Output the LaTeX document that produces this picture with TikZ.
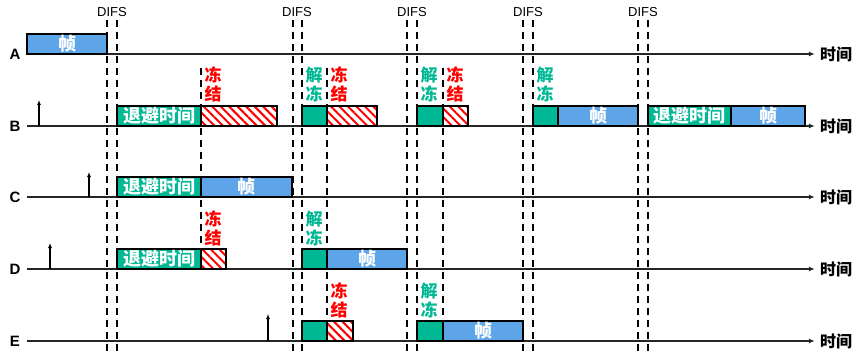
\documentclass[tikz,border=0pt]{standalone}
\usepackage{fontspec}
\setmainfont{Liberation Sans}
\newfontfamily\cjk{Noto Sans CJK SC}
\usetikzlibrary{arrows.meta,patterns.meta,positioning}

\definecolor{frblue}{RGB}{93,165,232}
\definecolor{bkgreen}{RGB}{0,184,148}

\tikzset{
  box/.style={draw=black,line width=1.6pt,inner sep=0pt,outer sep=0pt,minimum height=20pt,anchor=south west,
    text=white,font=\cjk\bfseries\fontsize{18}{18}\selectfont},
  frm/.style={box,fill=frblue},
  bko/.style={box,fill=bkgreen},
  frz/.style={box,pattern={Lines[angle=-45,distance=6pt,line width=2pt]},pattern color=red},
  tl/.style={line width=1.9pt,black!85,-{Latex[length=6pt,width=5pt]}},
  difs/.style={line width=1.5pt,dash pattern=on 7pt off 5pt},
  up/.style={line width=1.4pt,-{Latex[length=5pt,width=4pt]}},
  row/.style={font=\bfseries\fontsize{15}{15}\selectfont,minimum width=24pt,inner sep=0pt},
  tm/.style={font=\cjk\bfseries\fontsize{16}{16}\selectfont,inner sep=5pt},
  lbl/.style={font=\cjk\bfseries\fontsize{17}{19}\selectfont,align=center,inner sep=0pt},
  frzlbl/.style={lbl,text=red},
  thwlbl/.style={lbl,text=bkgreen}
}

\begin{document}
\begin{tikzpicture}[x=1pt,y=-1pt]
\useasboundingbox (0,0) rectangle (863,361);

\foreach \x in {107,117,293,302,407,417,523,533,638,648}
  \draw[difs] (\x,20) -- (\x,352);
\foreach \x [count=\i] in {112,297,412,528,643}
  \node[font=\fontsize{13}{13}\selectfont] (difs\i) at (\x,12) {DIFS};
\draw[difs] (201,68) -- (201,269);
\draw[difs] (327,68) -- (327,341);
\draw[difs] (443,68) -- (443,341);

\foreach \r/\y in {A/54,B/126,C/197,D/269,E/341} {
  \node[row] (l\r) at (15,\y) {\r};
  \node[tm] (t\r) at (836,\y) {时间};
  \draw[tl] (l\r) -- (t\r);
}

\draw[up] (39,126) -- (39,100);
\draw[up] (89,197) -- (89,172);
\draw[up] (50,269) -- (50,243);
\draw[up] (268,341) -- (268,314);

% A
\node[frm,minimum width=80pt] (a1) at (27,54) {帧};

% B
\node[bko,minimum width=84pt] (b1) at (117,126) {退避时间};
\node[frz,minimum width=76pt] (b2) at (b1.south east) {};
\node[bko,minimum width=25pt] (b3) at (302,126) {};
\node[frz,minimum width=50pt] (b4) at (b3.south east) {};
\node[bko,minimum width=26pt] (b5) at (417,126) {};
\node[frz,minimum width=25pt] (b6) at (b5.south east) {};
\node[bko,minimum width=25pt] (b7) at (533,126) {};
\node[frm,minimum width=80pt] (b8) at (b7.south east) {帧};
\node[bko,minimum width=83pt] (b9) at (648,126) {退避时间};
\node[frm,minimum width=74pt] (b10) at (b9.south east) {帧};
\node[frzlbl] (fb1) at (213,84) {冻\\结};
\node[thwlbl] (ub1) at (314,84) {解\\冻};
\node[frzlbl] (fb2) at (339,84) {冻\\结};
\node[thwlbl] (ub2) at (429,84) {解\\冻};
\node[frzlbl] (fb3) at (455,84) {冻\\结};
\node[thwlbl] (ub3) at (545,84) {解\\冻};

% C
\node[bko,minimum width=84pt] (c1) at (117,197) {退避时间};
\node[frm,minimum width=91pt] (c2) at (c1.south east) {帧};

% D
\node[bko,minimum width=84pt] (d1) at (117,269) {退避时间};
\node[frz,minimum width=25pt] (d2) at (d1.south east) {};
\node[bko,minimum width=25pt] (d3) at (302,269) {};
\node[frm,minimum width=80pt] (d4) at (d3.south east) {帧};
\node[frzlbl] (fd1) at (213,228) {冻\\结};
\node[thwlbl] (ud1) at (314,228) {解\\冻};

% E
\node[bko,minimum width=25pt] (e1) at (302,341) {};
\node[frz,minimum width=26pt] (e2) at (e1.south east) {};
\node[bko,minimum width=26pt] (e3) at (417,341) {};
\node[frm,minimum width=80pt] (e4) at (e3.south east) {帧};
\node[frzlbl] (fe1) at (339,300) {冻\\结};
\node[thwlbl] (ue1) at (429,300) {解\\冻};
\end{tikzpicture}
\end{document}
